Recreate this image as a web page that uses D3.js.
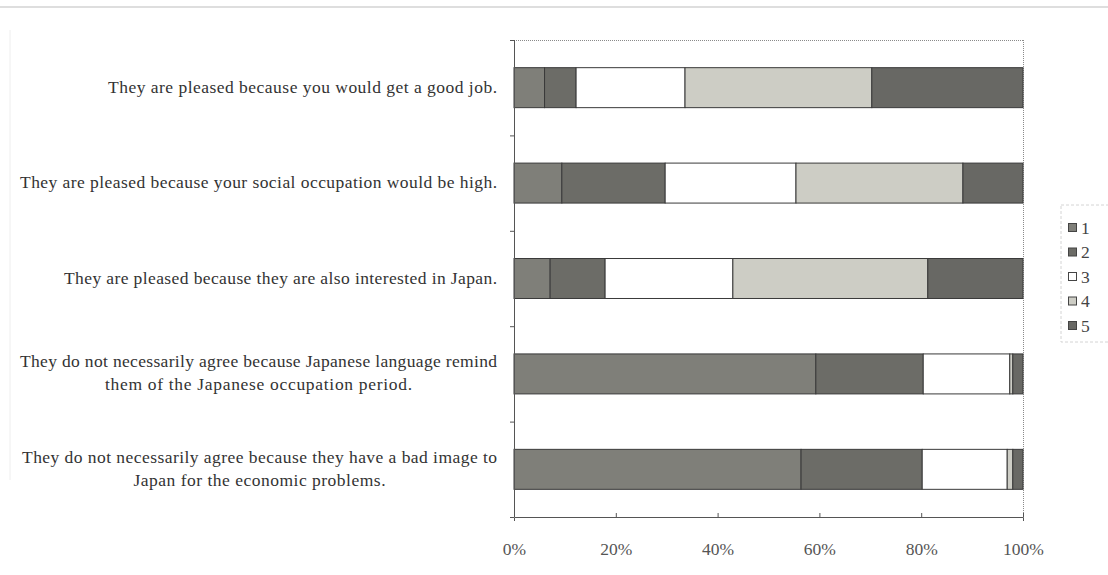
<!DOCTYPE html>
<html><head><meta charset="utf-8">
<script src="https://cdn.jsdelivr.net/npm/d3@7"></script>
<style>body{margin:0;background:#fff}svg{display:block}
text{font-family:"Liberation Serif","Times New Roman",Times,serif}</style>
</head><body>
<svg id="c" width="1108" height="575"></svg>
<script>
const categories = [
  ["They are pleased because you would get a good job."],
  ["They are pleased because your social occupation would be high."],
  ["They are pleased because they are also interested in Japan."],
  ["They do not necessarily agree because Japanese language remind", "them of the Japanese occupation period."],
  ["They do not necessarily agree because they have a bad image to", "Japan for the economic problems."]
];
const seriesNames = ["1", "2", "3", "4", "5"];
const s1 = [6.0, 9.4, 7.1, 59.3, 56.4];
const s2 = [6.2, 20.3, 10.8, 21.1, 23.8];
const s3 = [21.4, 25.7, 25.1, 17.0, 16.7];
const s4 = [36.7, 32.8, 38.3, 0.6, 1.1];
const s5 = [29.7, 11.8, 18.7, 2.0, 2.0];
const tickValues = [0, 0.2, 0.4, 0.6, 0.8, 1.0];
const tickLabels = ["0%", "20%", "40%", "60%", "80%", "100%"];
const labelWidths = [[389], [477], [433], [477, 307], [475, 252]];

const colors = ["#7f7f79", "#6c6c67", "#ffffff", "#cdcdc5", "#686864"];
const seriesVals = [s1, s2, s3, s4, s5];

const svg = d3.select("#c");
const L = 514, R = 1023, T = 40, B = 517;
const x = d3.scaleLinear().domain([0, 1]).range([L, R]);
const y = d3.scaleBand().domain(d3.range(categories.length)).range([T, B]).paddingInner(0.581).paddingOuter(0.29);

// page decorations
svg.append("line").attr("x1", 0).attr("x2", 1108).attr("y1", 7).attr("y2", 7).attr("stroke", "#bdbdbd").attr("stroke-width", 1);
svg.append("line").attr("x1", 10).attr("x2", 10).attr("y1", 30).attr("y2", 480).attr("stroke", "#eeeeee").attr("stroke-width", 1);

// plot frame (top/right dotted)
svg.append("line").attr("x1", L).attr("x2", R).attr("y1", T + 0.5).attr("y2", T + 0.5).attr("stroke", "#8a8a8a").attr("stroke-dasharray", "1,1");
svg.append("line").attr("x1", R + 0.5).attr("x2", R + 0.5).attr("y1", T).attr("y2", B).attr("stroke", "#8a8a8a").attr("stroke-dasharray", "1,1");

// stacked data
const stack = categories.map((c, i) => {
  let acc = 0;
  const total = seriesVals.reduce((a, s) => a + s[i], 0);
  return seriesVals.map((sv, k) => {
    const v0 = acc / total; acc += sv[i]; const v1 = acc / total;
    return {i, k, v0, v1};
  });
});

const g = svg.append("g");
stack.forEach(row => {
  g.selectAll(null).data(row).enter().append("rect")
    .attr("x", d => x(d.v0))
    .attr("y", d => y(d.i))
    .attr("width", d => x(d.v1) - x(d.v0))
    .attr("height", y.bandwidth())
    .attr("fill", d => colors[d.k])
    .attr("stroke", "#3a3a3a")
    .attr("stroke-width", 1);
});

// axes
const xAxis = d3.axisBottom(x).tickValues(tickValues).tickFormat((d, i) => tickLabels[i]).tickSize(4).tickPadding(22);
const gx = svg.append("g").attr("transform", `translate(0,${B})`).call(xAxis);
gx.attr("font-family", null);
gx.select(".domain").attr("stroke", "#555");
gx.selectAll(".tick line").attr("stroke", "#555").attr("y2", -4);
gx.selectAll("text").style("font-family", '"Liberation Serif","Times New Roman",serif').style("font-size", "17.5px").attr("fill", "#555");

const bounds = d3.range(categories.length + 1).map(i => T + i * (B - T) / categories.length);
svg.append("line").attr("x1", L + 0.5).attr("x2", L + 0.5).attr("y1", T).attr("y2", B).attr("stroke", "#555");
svg.selectAll(null).data(bounds).enter().append("line")
  .attr("x1", L - 4).attr("x2", L).attr("y1", d => d + 0.5).attr("y2", d => d + 0.5).attr("stroke", "#555");

// category labels
categories.forEach((lines, i) => {
  const cy = y(i) + y.bandwidth() / 2;
  const lh = 23;
  const maxW = d3.max(labelWidths[i]);
  const centerX = 497 - maxW / 2;
  lines.forEach((ln, j) => {
    const yy = cy + (j - (lines.length - 1) / 2) * lh + 5;
    svg.append("text")
      .attr("x", lines.length === 1 ? 497 : centerX)
      .attr("y", yy)
      .attr("text-anchor", lines.length === 1 ? "end" : "middle")
      .style("font-size", "17.5px")
      .attr("fill", "#333")
      .attr("textLength", labelWidths[i][j])
      .attr("lengthAdjust", "spacing")
      .text(ln);
  });
});

// legend
const lg = svg.append("g");
lg.append("rect").attr("x", 1061).attr("y", 205).attr("width", 60).attr("height", 137)
  .attr("fill", "none").attr("stroke", "#d4d4d4").attr("stroke-dasharray", "3,2");
seriesNames.forEach((n, k) => {
  const yy = 228 + k * 24.5;
  lg.append("rect").attr("x", 1068.5).attr("y", yy - 4.5).attr("width", 8).attr("height", 8)
    .attr("fill", colors[k]).attr("stroke", "#444").attr("stroke-width", 1);
  lg.append("text").attr("x", 1081).attr("y", yy + 5.5)
    .style("font-size", "17.5px").attr("fill", "#444").text(n);
});
</script>
</body></html>
